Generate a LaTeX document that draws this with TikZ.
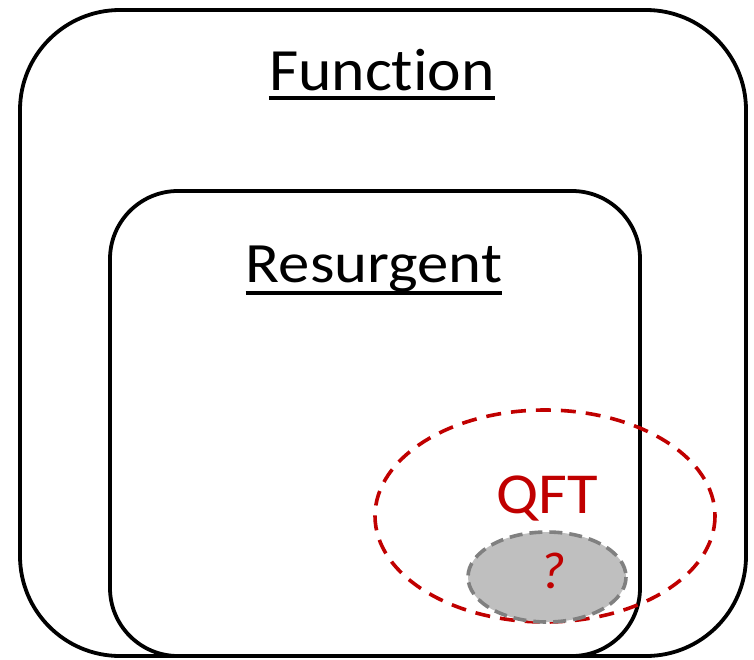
\documentclass[tikz,border=0pt]{standalone}
\usepackage{fontspec}
\setmainfont[Ligatures=NoCommon]{Carlito}
\usetikzlibrary{shapes.geometric}
\definecolor{qred}{HTML}{C00000}
\definecolor{qgray}{HTML}{BFBFBF}
\definecolor{qdgray}{HTML}{808080}
\tikzset{
  setbox/.style={draw=black, line width=3.8pt},
  title/.style={font=\fontsize{58}{66}\selectfont, inner sep=0pt, anchor=base},
  uline/.style={draw=black, line width=3.4pt},
  qftline/.style={draw=qred, line width=3.6pt, dash pattern=on 15pt off 10pt},
  unkline/.style={draw=qdgray, fill=qgray, line width=3.6pt, dash pattern=on 13pt off 7pt},
}
\newcommand{\wide}[2][1.08]{\scalebox{#1}[1]{#2}}
\begin{document}
\begin{tikzpicture}[x=1pt,y=-1pt]
\useasboundingbox (0,0) rectangle (754,659);
% outer set
\draw[setbox, rounded corners=100pt] (20,10) rectangle (746,656);
% inner set
\draw[setbox, rounded corners=68pt] (110,191) rectangle (640,656);
% QFT ellipse
\draw[qftline] (545,516) ellipse [x radius=170, y radius=106];
% unknown ellipse
\draw[unkline] (547,577) ellipse [x radius=79, y radius=45];
% texts
\node[title, font=\fontsize{60}{68}\selectfont] (fun) at (382,90) {\wide[1.06]{Function}};
\node[title, font=\fontsize{57}{64}\selectfont] (res) at (374,282) {\wide[1.1]{Resurgent}};
\draw[uline] ([yshift=-8pt]fun.base west) -- ([yshift=-8pt]fun.base east);
\draw[uline] ([yshift=-11pt]res.base west) -- ([yshift=-11pt]res.base east);
\node[title, text=qred] (qft) at (547,513) {\wide{QFT}};
\node[font=\fontsize{52}{58}\selectfont\itshape, text=qred, inner sep=0pt, anchor=base] (q) at (553,588) {\wide{?}};
\end{tikzpicture}
\end{document}
